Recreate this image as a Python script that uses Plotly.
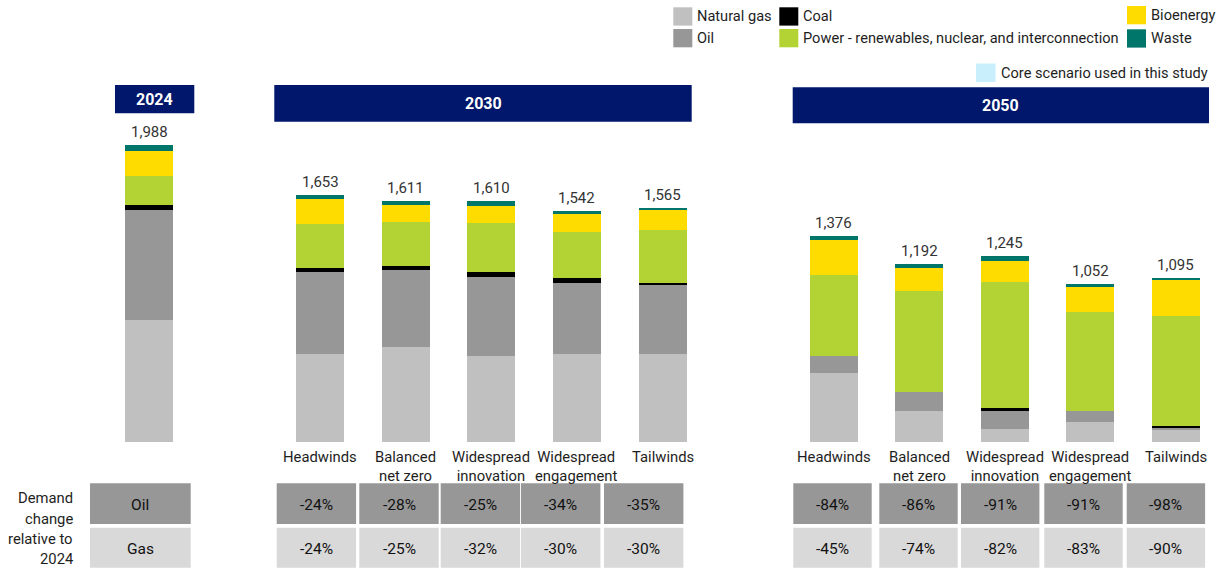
import plotly.graph_objects as go

# ---------------------------------------------------------------------------
# Data
# ---------------------------------------------------------------------------
GROUPS = ["2024", "2030", "2050"]
SCENARIOS = ["Headwinds", "Balanced<br>net zero", "Widespread<br>innovation",
             "Widespread<br>engagement", "Tailwinds"]

# Bar order: 2024, then the five 2030 scenarios, then the five 2050 scenarios
natural_gas = [816, 589, 634, 571, 590, 588, 461, 208, 85, 135, 84]
oil = [736, 545, 514, 533, 474, 460, 110, 125, 123, 68, 5]
coal = [29, 29, 27, 29, 31, 16, 0, 0, 16, 0, 14]
power = [195, 295, 295, 332, 311, 351, 545, 675, 844, 668, 741]
bioenergy = [166, 166, 114, 114, 123, 134, 235, 157, 141, 163, 237]
waste = [46, 29, 27, 31, 13, 16, 25, 27, 36, 18, 14]

# Demand change relative to 2024 (%)
oil_change_2030 = [-24, -28, -25, -34, -35]
gas_change_2030 = [-24, -25, -32, -30, -30]
oil_change_2050 = [-84, -86, -91, -91, -98]
gas_change_2050 = [-45, -74, -82, -83, -90]

SERIES = [
    ("Natural gas", natural_gas, "#c0c0c0"),
    ("Oil", oil, "#979797"),
    ("Coal", coal, "#000000"),
    ("Power - renewables, nuclear, and interconnection", power, "#b3d335"),
    ("Bioenergy", bioenergy, "#ffdc00"),
    ("Waste", waste, "#00766a"),
]

# ---------------------------------------------------------------------------
# Layout constants (pixels)
# ---------------------------------------------------------------------------
W, H = 1231, 570
FONT = "Roboto, 'Liberation Sans', Arial, sans-serif"
NAVY = "#00176b"
TEXT = "#1e1e1e"

SLOT_PX = 85.55          # horizontal distance between neighbouring bars
SLOT0_PX = 149.2         # centre of the 2024 bar
BAR_PX = 48
BASE_PX = 441.7          # pixel row of the zero line
UNIT_PER_PX = 6.69       # vertical scale

GROUP_START = [0, 2, 8]  # slot of first bar in each group
GROUP_SIZE = [1, 5, 5]

slots = []
for start, n in zip(GROUP_START, GROUP_SIZE):
    slots += [start + i for i in range(n)]

totals = [sum(v) for v in zip(*[s[1] for s in SERIES])]

x_range = [(0 - SLOT0_PX) / SLOT_PX, (W - SLOT0_PX) / SLOT_PX]
y_range = [-(H - BASE_PX) * UNIT_PER_PX, BASE_PX * UNIT_PER_PX]


def px(xp):
    return xp / W


def py(yp):
    return 1 - yp / H


def label(x, y, text, size=14.8, color=TEXT, xanchor="center", yanchor="middle",
          xref="paper", yref="paper", **kw):
    return dict(x=x, y=y, xref=xref, yref=yref, text=text, showarrow=False,
                xanchor=xanchor, yanchor=yanchor,
                font=dict(family=FONT, size=size, color=color), **kw)


fig = go.Figure()

for name, vals, color in SERIES:
    fig.add_trace(go.Bar(
        x=slots, y=vals, name=name, width=BAR_PX / SLOT_PX,
        marker=dict(color=color, line=dict(width=0)),
        showlegend=False, hoverinfo="name+y",
    ))

shapes = []
annotations = []

# Totals above each bar
for s, t in zip(slots, totals):
    annotations.append(label(s, t, f"{t:,}", size=15, color="#333333", yanchor="bottom",
                             xref="x", yref="y", yshift=2))

# Scenario labels under the 2030 and 2050 bars
for g in (1, 2):
    for i, name in enumerate(SCENARIOS):
        annotations.append(label(GROUP_START[g] + i, py(446), name,
                                 xref="x", yanchor="top"))

# Year headers
HEADERS = [(115, 194.3, 85, 113.3), (274.3, 691.7, 85, 121.7), (792.7, 1209, 87.3, 123.3)]
for year, (x0, x1, y0, y1) in zip(GROUPS, HEADERS):
    shapes.append(dict(type="rect", xref="paper", yref="paper",
                       x0=px(x0), x1=px(x1), y0=py(y1), y1=py(y0),
                       fillcolor=NAVY, line=dict(width=0), layer="below"))
    annotations.append(label(px((x0 + x1) / 2), py((y0 + y1) / 2), f"<b>{year}</b>",
                             size=16, color="white"))

# Demand-change table
OIL_ROW = (483.3, 524.0)
GAS_ROW = (527.8, 567.7)
OIL_CELL = "#979797"
GAS_CELL = "#d9d9d9"


def cell(x0, x1, row, fill, text):
    y0, y1 = row
    shapes.append(dict(type="rect", xref="paper", yref="paper",
                       x0=px(x0), x1=px(x1), y0=py(y1), y1=py(y0),
                       fillcolor=fill, line=dict(width=0), layer="below"))
    annotations.append(label(px((x0 + x1) / 2), py((y0 + y1) / 2 + 1), text,
                             size=15.5, color="#111111"))


cell(90, 190.7, OIL_ROW, OIL_CELL, "Oil")
cell(90, 190.7, GAS_ROW, GAS_CELL, "Gas")

TABLE_COLS = {
    "2030": ([276.7, 359.3, 440.7, 521.0, 604.0], 79.4),
    "2050": ([793.3, 879.3, 961.0, 1044.3, 1126.7], 78.4),
}
for year, oil_ch, gas_ch in (("2030", oil_change_2030, gas_change_2030),
                             ("2050", oil_change_2050, gas_change_2050)):
    lefts, w = TABLE_COLS[year]
    for x0, o, g in zip(lefts, oil_ch, gas_ch):
        cell(x0, x0 + w, OIL_ROW, OIL_CELL, f"{o}%")
        cell(x0, x0 + w, GAS_ROW, GAS_CELL, f"{g}%")

for line, yc in zip(["Demand", "change", "relative to", "2024"], [498.3, 519, 538.6, 559.3]):
    annotations.append(label(px(75), py(yc), line, xanchor="right"))

# Legend
LEGEND = [
    ("Natural gas", 673.3, 7.3),
    ("Oil", 673.3, 29.0),
    ("Coal", 779.3, 7.3),
    ("Power - renewables, nuclear, and interconnection", 779.3, 29.0),
    ("Bioenergy", 1127.0, 6.0),
    ("Waste", 1127.0, 29.3),
]
colors = {name: c for name, _, c in SERIES}
SW = 19
for name, x0, y0 in LEGEND:
    shapes.append(dict(type="rect", xref="paper", yref="paper",
                       x0=px(x0), x1=px(x0 + SW), y0=py(y0 + 18.3), y1=py(y0),
                       fillcolor=colors[name], line=dict(width=0)))
    annotations.append(label(px(x0 + SW + 3), py(y0 + 9), name, size=14.6,
                             xanchor="left"))

shapes.append(dict(type="rect", xref="paper", yref="paper",
                   x0=px(976), x1=px(995.5), y0=py(82), y1=py(63.5),
                   fillcolor="#c9eefc", line=dict(width=0)))
annotations.append(label(px(998.5), py(73), "Core scenario used in this study",
                         size=14.6, xanchor="left"))

fig.update_layout(
    width=W, height=H, autosize=False,
    margin=dict(l=0, r=0, t=0, b=0, pad=0),
    barmode="stack", bargap=0,
    plot_bgcolor="white", paper_bgcolor="white",
    xaxis=dict(range=x_range, visible=False, fixedrange=True),
    yaxis=dict(range=y_range, visible=False, fixedrange=True),
    shapes=shapes, annotations=annotations,
    font=dict(family=FONT),
)

fig.write_html("out.html", config={"displayModeBar": False})
